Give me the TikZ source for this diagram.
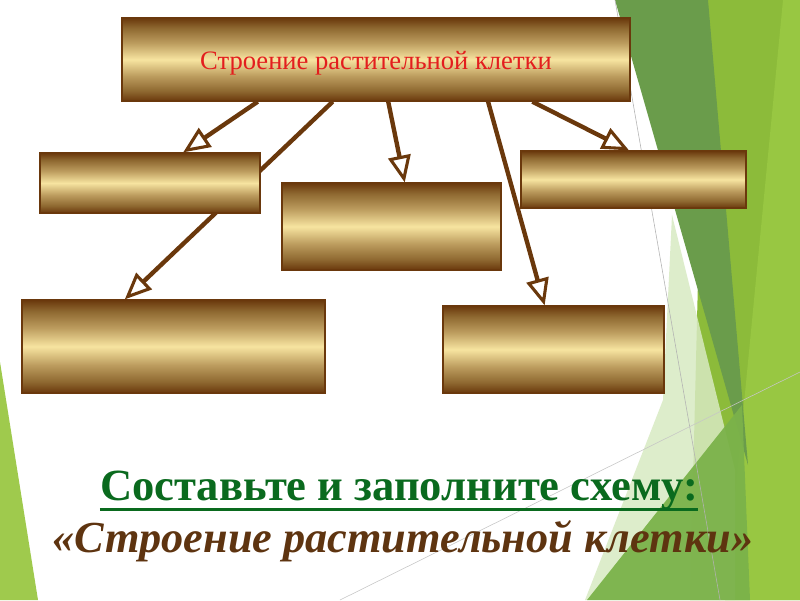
\documentclass[tikz,border=0pt]{standalone}
\usepackage{fontspec}
\setmainfont{Liberation Serif}
\usetikzlibrary{arrows.meta, calc, backgrounds}
\definecolor{cellbrown}{HTML}{6A380C}
\definecolor{cellshade}{HTML}{8E6830}
\definecolor{cellmid}{HTML}{BC9C5E}
\definecolor{cellgold}{HTML}{F7E4A0}
\definecolor{cellred}{HTML}{E31E1E}
\definecolor{schemegreen}{HTML}{0A6A1E}
\definecolor{captionbrown}{HTML}{5E3410}
\definecolor{leafdark}{HTML}{6A9C4B}
\definecolor{leafbright}{HTML}{8CBB3A}
\definecolor{leaflime}{HTML}{98C742}
\definecolor{leafmid}{HTML}{7BB24A}
\definecolor{leafpale}{HTML}{D8EAC2}
\definecolor{leafleft}{HTML}{9FCA4D}
% the path is mapped onto the middle 25bp--75bp of the shading
\pgfdeclareverticalshading{goldbar}{100bp}{color(0bp)=(cellbrown); color(25bp)=(cellbrown);
  color(31bp)=(cellshade); color(40bp)=(cellmid); color(50bp)=(cellgold); color(60bp)=(cellmid);
  color(69bp)=(cellshade); color(75bp)=(cellbrown); color(100bp)=(cellbrown)}
\tikzset{
  goldbox/.style={draw=cellbrown, line width=0.9pt, shade, shading=goldbar, inner sep=0pt},
  partarrow/.style={draw=cellbrown, line width=3.1pt,
    -{Triangle[open, length=19pt, width=16pt, line width=2.2pt]}},
}

\begin{document}
\begin{tikzpicture}[x=0.025cm, y=-0.025cm]
  \useasboundingbox (0,0) rectangle (800,600);
  % boxes of the scheme
  \node[goldbox, minimum width=12.7cm, minimum height=2.075cm,
    font=\fontsize{18.9}{20}\selectfont, text=cellred] (structure) at (376,59.5)
    {\raisebox{-7.2pt}[0pt][0pt]{Строение растительной клетки}};
  \node[goldbox, minimum width=5.5cm, minimum height=1.5cm] (partnw) at (150,183) {};
  \node[goldbox, minimum width=5.475cm, minimum height=2.175cm] (partc) at (391.5,226.5) {};
  \node[goldbox, minimum width=5.625cm, minimum height=1.425cm] (partne) at (633.5,179.5) {};
  \node[goldbox, minimum width=7.575cm, minimum height=2.325cm] (partsw) at (173.5,346.5) {};
  \node[goldbox, minimum width=5.525cm, minimum height=2.175cm] (partse) at (553.5,349.5) {};
  % task
  \node[anchor=base, font=\bfseries\fontsize{31.7}{34}\selectfont, text=schemegreen, inner sep=0pt]
    (task) at (399,500) {Составьте и заполните схему:};
  \draw[schemegreen, line width=2.2pt] ([yshift=-7pt]task.base west) -- ([yshift=-7pt]task.base east);
  \node[anchor=base, font=\bfseries\itshape\fontsize{31.5}{34}\selectfont, text=captionbrown, inner sep=0pt]
    (topic) at (403,552) {«Строение растительной клетки»};
  \begin{scope}[on background layer]
    \fill[white] (0,0) rectangle (800,600);
    % green facets
    \fill[leafleft] (0,362) -- (38,600) -- (0,600) -- cycle;
    \fill[leafbright] (705,0) -- (800,0) -- (800,600) -- (690,600) -- cycle;
    \fill[leaflime] (783,0) -- (800,0) -- (800,600) -- (725,600) -- cycle;
    \fill[leafdark] (615,0) -- (708,0) -- (748,465) -- cycle;
    \fill[leafpale, opacity=0.85] (672,215) -- (735,470) -- (735,600) -- (585,600) -- (663,400) -- cycle;
    \fill[leafmid, opacity=0.95] (587,600) -- (742,405) -- (750,600) -- cycle;
    \draw[gray!60, line width=0.4pt] (615,0) -- (720,600);
    \draw[gray!45, line width=0.4pt] (340,600) -- (800,372);
    % arrows to the parts
    \draw[partarrow] ($(structure.south west)!0.268!(structure.south east)$)
      -- ($(partnw.north west)!0.65!(partnw.north east)$);
    \draw[partarrow] ($(structure.south west)!0.415!(structure.south east)$)
      -- ($(partsw.north west)!0.34!(partsw.north east)$);
    \draw[partarrow] ($(structure.south west)!0.524!(structure.south east)$)
      -- ($(partc.north west)!0.56!(partc.north east)$);
    \draw[partarrow] ($(structure.south west)!0.72!(structure.south east)$)
      -- ($(partse.north west)!0.46!(partse.north east)$);
    \draw[partarrow] ($(structure.south west)!0.807!(structure.south east)$)
      -- ($(partne.north west)!0.48!(partne.north east)$);
  \end{scope}
\end{tikzpicture}
\end{document}
